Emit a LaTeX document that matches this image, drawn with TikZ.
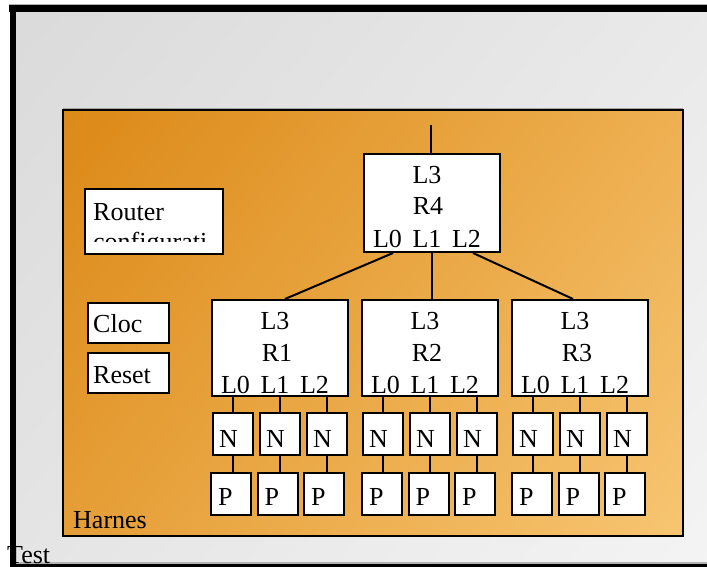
\documentclass[tikz,border=0pt]{standalone}
\usepackage{fontspec}
\setmainfont{Liberation Serif}
\usetikzlibrary{calc}
\definecolor{bgA}{RGB}{212,212,212}
\definecolor{bgB}{RGB}{250,250,250}
\definecolor{orA}{RGB}{213,122,0}
\definecolor{orB}{RGB}{254,212,136}
\tikzset{
  box/.style={draw=black, line width=2pt, fill=white, anchor=north west, inner sep=0pt},
  txt/.style={font=\fontsize{26}{31}\selectfont, inner sep=0pt, text=black},
  wire/.style={line width=2pt, draw=black},
}
\begin{document}
\begin{tikzpicture}[x=1pt,y=-1pt]
\useasboundingbox (0,0) rectangle (707,567);
\fill[white] (0,0) rectangle (707,567);
% outer frame
\begin{scope}
  \clip (12,10) rectangle (707,565);
  \shade[left color=bgA, right color=bgB, transform canvas={rotate around={-40:(360,288)}}] (-307,-379) rectangle (1027,955);
\end{scope}
\fill[gray!60] (9,4) rectangle (707,6);
\fill[black] (9,5) rectangle (707,12);
\fill[black] (10,5) rectangle (16,567);
\fill[gray!60] (16,562) rectangle (707,564);
\fill[black] (16,564) rectangle (707,567);
% harness
\draw[gray!70, line width=1pt] (63,108.5) -- (683,108.5);
\begin{scope}
  \clip (63,110) rectangle (683,536);
  \shade[left color=orA, right color=orB, transform canvas={rotate around={-38:(373,323)}}] (-191,-241) rectangle (937,887);
\end{scope}
\draw[black, line width=2pt] (63,110) rectangle (683,536);
\node[txt, anchor=base west] (harn) at (73,528) {Harnes};
% router configuration
\node[box, minimum width=138, minimum height=65] (cfg) at (84,188) {};
\begin{scope}
  \clip (86,190) rectangle (209,241);
  \node[txt, anchor=base west] (cfgA) at (93,220) {Router};
  \node[txt, anchor=base west] (cfgB) at (93,250) {configurati};
\end{scope}
% clock and reset
\node[box, minimum width=81, minimum height=40] (clk) at (87,302) {};
\node[txt, anchor=base west] (clkt) at (93,332) {Cloc};
\node[box, minimum width=81, minimum height=40] (rst) at (87,352) {};
\node[txt, anchor=base west] (rstt) at (93,383) {Reset};
% top router
\node[box, minimum width=136, minimum height=98] (r4) at (363,153) {};
\node[txt, anchor=base] (r4a) at ($(r4.north west)+(64,30)$) {L3};
\node[txt, anchor=base] (r4b) at ($(r4.north west)+(65,61)$) {R4};
\node[txt, anchor=base] (r4c) at ($(r4.north west)+(64,94)$) {L0\hspace{0.41em}L1\hspace{0.41em}L2};
\coordinate (up) at (431,125);
\draw[wire] (up) -- (up |- r4.north);
% lower routers
\foreach \i/\x/\nx/\px in {1/211/212/210, 2/361/362/361, 3/511/512/511}{
  \node[box, minimum width=136, minimum height=96] (r\i) at (\x,299) {};
  \node[txt, anchor=base] (r\i a) at ($(r\i.north west)+(64,30)$) {L3};
  \node[txt, anchor=base] (r\i b) at ($(r\i.north west)+(66,62)$) {R\i};
  \node[txt, anchor=base] (r\i c) at ($(r\i.north west)+(64,94)$) {L0\hspace{0.41em}L1\hspace{0.41em}L2};
  \foreach \j in {0,1,2}{
    \node[box, minimum width=40, minimum height=42] (n\i\j) at (\nx+47*\j,412) {};
    \node[txt, anchor=base west] (n\i\j t) at ($(n\i\j.north west)+(7,35)$) {N};
    \node[box, minimum width=40, minimum height=42] (p\i\j) at (\px+46.5*\j,472) {};
    \node[txt, anchor=base west] (p\i\j t) at ($(p\i\j.north west)+(8,33)$) {P};
    \draw[wire] (n\i\j.north) -- (n\i\j.north |- r\i.south);
    \draw[wire] (n\i\j.south) -- (n\i\j.south |- p\i\j.north);
  }
}
% top router links
\draw[wire] ($(r4.south west)+(30,0)$) -- ($(r1.north west)+(74,0)$);
\draw[wire] (r4.south) -- (r4.south |- r2.north);
\draw[wire] ($(r4.south west)+(110,0)$) -- ($(r3.north west)+(62,0)$);
\node[txt, anchor=base west] (test) at (7,563) {Test};
\end{tikzpicture}
\end{document}
